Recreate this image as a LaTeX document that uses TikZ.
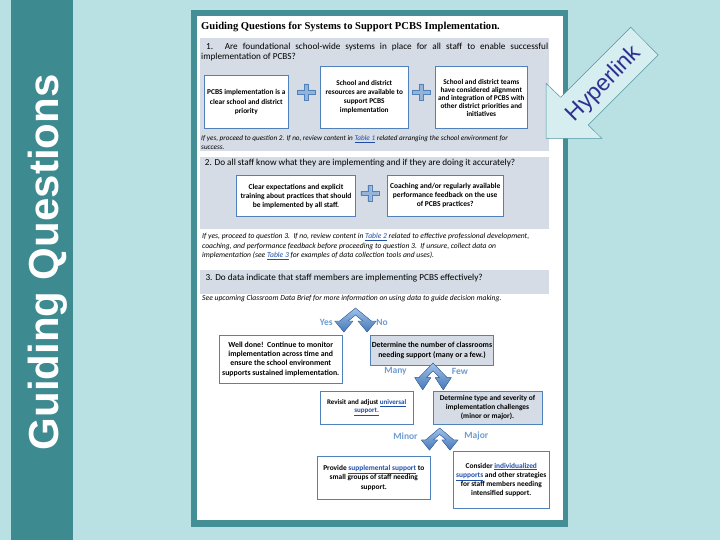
\documentclass[tikz,border=0pt]{standalone}
\usepackage{fontspec}
\setmainfont{Carlito}
\newfontfamily\titlefont{Liberation Serif}
\newfontfamily\arialfont{Liberation Sans}
\definecolor{bgteal}{RGB}{185,224,227}
\definecolor{darkteal}{RGB}{61,138,144}
\definecolor{frameteal}{RGB}{68,143,150}
\definecolor{secgrey}{RGB}{214,220,229}
\definecolor{boxblue}{RGB}{79,129,189}
\definecolor{linkblue}{RGB}{31,78,170}
\definecolor{lblblue}{RGB}{110,156,210}
\definecolor{navy}{RGB}{46,49,146}
\definecolor{arrowfill}{RGB}{214,238,240}
\definecolor{arrowedge}{RGB}{80,150,158}
\definecolor{plusfill}{RGB}{149,179,215}
\definecolor{chevlight}{RGB}{160,194,234}
\definecolor{chevdark}{RGB}{70,120,185}
\definecolor{chevedge}{RGB}{60,105,165}
\newcommand\lnk[1]{\textcolor{linkblue}{\underline{#1}}}
\newcommand\plusat[2]{\filldraw[plusshape] (#1,#2) ++(-2,-8) -- ++(4,0) -- ++(0,6) -- ++(7,0) -- ++(0,4) -- ++(-7,0) -- ++(0,6) -- ++(-4,0) -- ++(0,-6) -- ++(-7,0) -- ++(0,-4) -- ++(7,0) -- cycle;}
\newcommand\chevat[4]{\begin{scope}[shift={(#1,#2)},xscale=#3,yscale=#4]
\filldraw[chevshape] (0,0) -- (13,13) -- (17,13) -- (9.5,24) -- (2,13) -- (6,13) -- (0,7) -- (-6,13) -- (-2,13) -- (-9.5,24) -- (-17,13) -- (-13,13) -- cycle;
\end{scope}}
\tikzset{
  fbox/.style={draw=boxblue, line width=0.7pt, fill=white, align=center, inner sep=0pt,
    font=\bfseries\fontsize{7.5}{9}\selectfont},
  gbox/.style={fbox, fill=secgrey},
  plusshape/.style={fill=plusfill, draw=boxblue, line width=0.4pt},
  chevshape/.style={top color=chevlight, bottom color=chevdark, draw=chevedge, line width=0.4pt},
  lbl/.style={text=lblblue, font=\bfseries\fontsize{9.5}{9.5}\selectfont, inner sep=0pt},
  itxt/.style={anchor=north west, align=left, inner sep=0pt, font=\itshape\fontsize{7.6}{9.6}\selectfont},
  qtxt/.style={anchor=base west, inner sep=0pt, font=\fontsize{9.2}{10.6}\selectfont}
}
\begin{document}
\begin{tikzpicture}[x=1pt,y=-1pt]
\useasboundingbox (0,0) rectangle (720,540);
\fill[bgteal] (0,0) rectangle (720,540);
\fill[darkteal] (11,0) rectangle (73,540);
\node[rotate=90, anchor=base, text=white, inner sep=0pt, font=\arialfont\bfseries\fontsize{42}{42}\selectfont] (side) at (58,262.5) {Guiding Questions};
% page
\fill[frameteal] (191,10.5) rectangle (568,527);
\fill[white] (197,16.5) rectangle (562.5,520);
\fill[secgrey] (200,38) rectangle (549,151);
\fill[secgrey] (200,157) rectangle (549,229);
\fill[secgrey] (200,270) rectangle (549,294);
\node[anchor=base west, inner sep=0pt, font=\titlefont\bfseries\fontsize{10.6}{10.6}\selectfont] (title) at (201,30) {Guiding Questions for Systems to Support PCBS Implementation.};
\node[anchor=north west, text width=347pt, align=justify, inner sep=0pt, font=\fontsize{9.2}{10.6}\selectfont] (q1) at (201,42.5) {\ 1. Are foundational school-wide systems in place for all staff to enable successful\linebreak implementation of PCBS?};
\node[fbox, minimum width=83.3pt, minimum height=52.6pt, font=\bfseries\fontsize{7.4}{9.6}\selectfont] (b1) at (246.3,102) {PCBS implementation is a\\clear school and district\\priority};
\node[fbox, minimum width=87.3pt, minimum height=61.6pt, font=\bfseries\fontsize{7.3}{9}\selectfont] (b2) at (364.3,97.5) {School and district\\resources are available to\\support PCBS\\implementation};
\node[fbox, minimum width=92pt, minimum height=61.6pt, font=\bfseries\fontsize{7.3}{8}\selectfont] (b3) at (481.3,97.5) {School and district teams\\have considered alignment\\and integration of PCBS with\\other district priorities and\\initiatives};
\plusat{306}{92}
\plusat{421}{92}
\node[itxt, font=\itshape\fontsize{7.2}{9.2}\selectfont] (n1) at (201,135.5) {If yes, proceed to question 2. If no, review content in \lnk{Table 1} related arranging the school environment for\\success.};
\node[qtxt] (q2) at (204.7,165.5) {2. Do all staff know what they are implementing and if they are doing it accurately?};
\node[fbox, minimum width=119.4pt, minimum height=41pt] (bA) at (296,196.2) {Clear expectations and explicit\\training about practices that should\\be implemented by all staff.};
\node[fbox, minimum width=115.7pt, minimum height=41.7pt] (bB) at (445.2,195.8) {Coaching and/or regularly available\\performance feedback on the use\\of PCBS practices?};
\plusat{369.7}{193.3}
\node[itxt] (n2) at (202,233) {If yes, proceed to question 3.\ \ If no, review content in \lnk{Table 2} related to effective professional development,\\coaching, and performance feedback before proceeding to question 3.\ \ If unsure, collect data on\\implementation (see \lnk{Table 3} for examples of data collection tools and uses).};
\node[qtxt] (q3) at (205.3,280.5) {3. Do data indicate that staff members are implementing PCBS effectively?};
\node[itxt] (n3) at (202,295.5) {See upcoming Classroom Data Brief for more information on using data to guide decision making.};
% flow
\chevat{355.5}{308}{1.22}{1.0}
\node[lbl] (yes) at (326.3,322.3) {Yes};
\node[lbl] (no) at (382,322.3) {No};
\node[fbox, minimum width=123.3pt, minimum height=48.3pt, font=\bfseries\fontsize{7.8}{9.3}\selectfont] (f1) at (280.7,359.2) {Well done!\ \ Continue to monitor\\implementation across time and\\ensure the school environment\\supports sustained implementation.};
\node[gbox, minimum width=123.4pt, minimum height=30.7pt, font=\bfseries\fontsize{7.8}{10}\selectfont] (f2) at (432,350.3) {Determine the number of classrooms\\needing support (many or a few.)};
\chevat{433}{363}{1.08}{1.12}
\node[lbl] (many) at (395.5,371) {Many};
\node[lbl] (few) at (460,371) {Few};
\node[fbox, minimum width=92.7pt, minimum height=32.3pt, font=\bfseries\fontsize{7}{8.5}\selectfont] (f3) at (366.7,407.8) {Revisit and adjust \lnk{universal}\\\lnk{support.}};
\node[gbox, minimum width=109pt, minimum height=32.3pt, font=\bfseries\fontsize{7.4}{9}\selectfont] (f4) at (487.5,407.8) {Determine type and severity of\\implementation challenges\\(minor or major).};
\chevat{439.7}{428}{1.08}{0.92}
\node[lbl] (minor) at (405.5,436) {Minor};
\node[lbl] (major) at (476.3,436) {Major};
\node[fbox, minimum width=113pt, minimum height=43.3pt, font=\bfseries\fontsize{7.4}{9.3}\selectfont] (f5) at (373.8,477.7) {Provide \lnk{supplemental support} to\\small groups of staff needing\\support.};
\node[fbox, minimum width=96.7pt, minimum height=56.6pt, font=\bfseries\fontsize{7.4}{9.3}\selectfont] (f6) at (501.3,480) {Consider \lnk{individualized}\\\lnk{supports} and other strategies\\for staff members needing\\intensified support.};
% hyperlink arrow
\filldraw[fill=arrowfill, draw=arrowedge, line width=0.5pt] (546,83.3) -- (546,138.3) -- (601.7,138.3) -- (588.3,125) -- (658.3,55) -- (630.7,27.3) -- (560.7,97.3) -- cycle;
\node[rotate=45, text=navy, inner sep=0pt, font=\arialfont\fontsize{23}{23}\selectfont] (hyper) at (604,84) {Hyperlink};
\end{tikzpicture}
\end{document}
